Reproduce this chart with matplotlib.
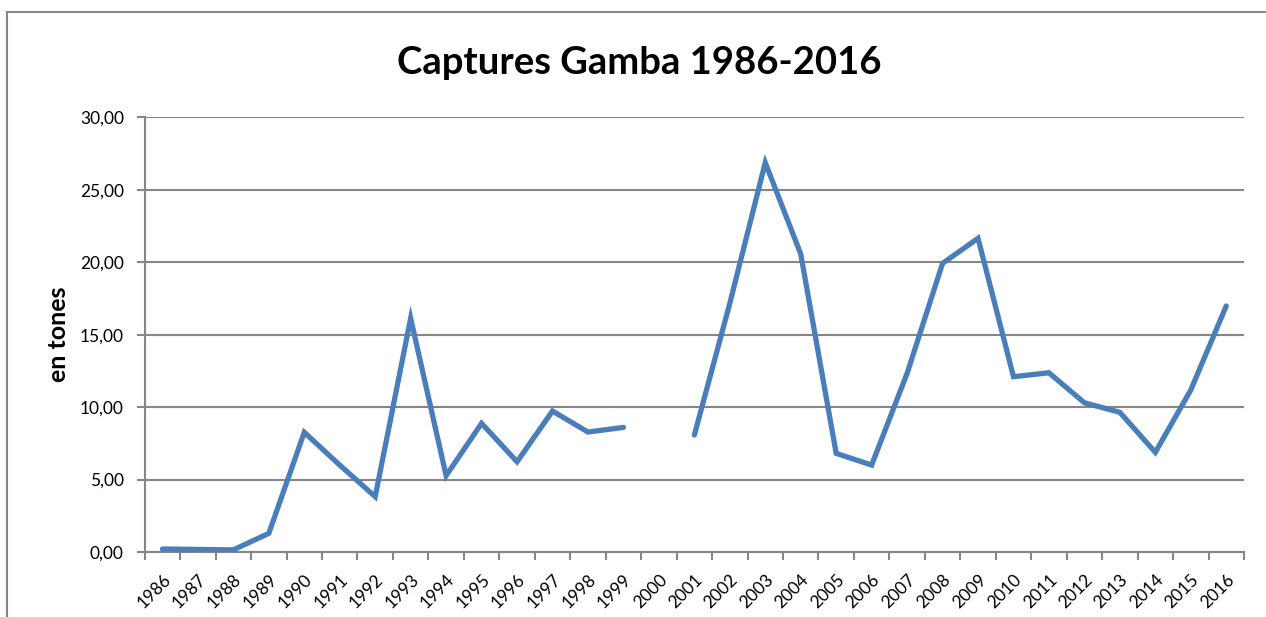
import matplotlib.pyplot as plt
from matplotlib.lines import Line2D
import numpy as np

plt.rcParams['font.family'] = ['Lato', 'DejaVu Sans']

anys = [str(a) for a in range(1986, 2017)]
captures = [0.21, 0.18, 0.15, 1.29, 8.26, 6.0, 3.82, 16.13, 5.27, 8.88,
            6.23, 9.73, 8.28, 8.6, np.nan, 8.07, 17.16, 26.87, 20.57, 6.81,
            6.0, 12.33, 19.92, 21.65, 12.1, 12.37, 10.3, 9.64, 6.88, 11.18,
            16.98]
valors_y = [0, 5, 10, 15, 20, 25, 30]
etiquetes_y = ["0,00", "5,00", "10,00", "15,00", "20,00", "25,00", "30,00"]

gris = "#868686"

fig = plt.figure(figsize=(12.66, 6.17), dpi=100)
ax = fig.add_axes([0.1143, 0.1053, 0.9826 - 0.1143, 0.8099 - 0.1053])

x = np.arange(len(anys))
ax.plot(x, captures, color="#4A7EBB", linewidth=3.8, solid_capstyle="round",
        solid_joinstyle="miter", zorder=3)

ax.set_xlim(-0.5, len(anys) - 0.5)
ax.set_ylim(0, 30)

ax.set_yticks(valors_y)
ax.set_yticklabels(etiquetes_y, fontsize=12.5)
ax.yaxis.grid(True, color=gris, linewidth=1.5)
ax.tick_params(axis="y", length=6, width=1.5, color=gris, pad=9)

ax.set_xticks(x)
ax.set_xticklabels(anys, rotation=45, ha="right", va="top",
                   rotation_mode="anchor", fontsize=12.5)
ax.tick_params(axis="x", which="major", length=0, pad=14)
ax.set_xticks(np.arange(-0.5, len(anys)), minor=True)
ax.tick_params(axis="x", which="minor", length=6, width=1.5, color=gris)

for lado in ["top", "right"]:
    ax.spines[lado].set_visible(False)
for lado in ["left", "bottom"]:
    ax.spines[lado].set_color(gris)
    ax.spines[lado].set_linewidth(1.5)

ax.set_ylabel("en tones", fontsize=18, fontweight="bold", labelpad=7)
fig.text(0.505, 0.898, "Captures Gamba 1986-2016", ha="center", va="center",
         fontsize=27.5, fontweight="bold")

# marc del grafic
fig.add_artist(Line2D([7 / 1266, 7 / 1266], [-0.1, 1 - 12 / 617],
                      transform=fig.transFigure, color=gris, linewidth=1.5))
fig.add_artist(Line2D([7 / 1266, 1.1], [1 - 12 / 617, 1 - 12 / 617],
                      transform=fig.transFigure, color=gris, linewidth=1.5))

fig.savefig("out.png", dpi=100)
